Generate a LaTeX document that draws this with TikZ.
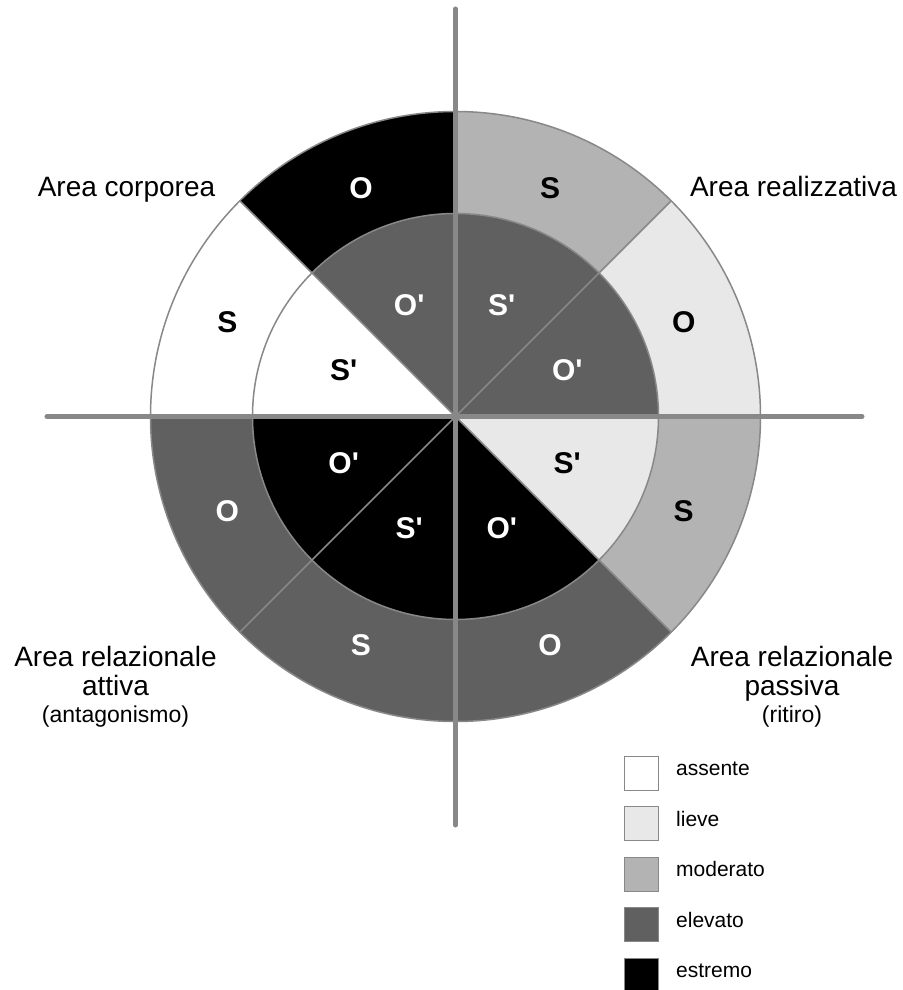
\documentclass[tikz,border=0pt]{standalone}
\usepackage{fontspec}
\setmainfont{Liberation Sans}[Ligatures=TeXOff]
\begin{document}
\begin{tikzpicture}[x=1pt,y=1pt,
  divider/.style={draw=rulec, line width=1.5pt},
  axisline/.style={draw=rulec, line width=5pt, line cap=round},
  seclab/.style={font=\fontsize{30}{34}\selectfont\bfseries, inner sep=0pt},
  arealab/.style={font=\fontsize{28}{32}\selectfont, anchor=base, inner sep=0pt},
  sublab/.style={font=\fontsize{23}{27}\selectfont, anchor=base, inner sep=0pt},
  legbox/.style={draw=rulec, line width=1pt, minimum size=34pt, inner sep=0pt},
  legtext/.style={font=\fontsize{21}{25}\selectfont, anchor=mid west, inner sep=0pt}
]
\definecolor{lvA}{HTML}{FFFFFF}
\definecolor{lvB}{HTML}{E8E8E8}
\definecolor{lvC}{HTML}{B3B3B3}
\definecolor{lvD}{HTML}{606060}
\definecolor{lvE}{HTML}{000000}
\definecolor{rulec}{HTML}{888888}
\useasboundingbox (-455.5,-573.5) rectangle (446.5,416.5);
\fill[white] (-455.5,-573.5) rectangle (446.5,416.5);

\newcommand\mysector[4]{\fill[#4] (0,0) -- (#1:#3) arc[start angle=#1,end angle=#2,radius=#3] -- cycle;}

% outer ring
\mysector{90}{135}{305}{lvE}
\mysector{135}{180}{305}{lvA}
\mysector{180}{225}{305}{lvD}
\mysector{225}{270}{305}{lvD}
\mysector{270}{315}{305}{lvD}
\mysector{315}{360}{305}{lvC}
\mysector{0}{45}{305}{lvB}
\mysector{45}{90}{305}{lvC}
% inner ring
\mysector{90}{135}{203}{lvD}
\mysector{135}{180}{203}{lvA}
\mysector{180}{225}{203}{lvE}
\mysector{225}{270}{203}{lvE}
\mysector{270}{315}{203}{lvE}
\mysector{315}{360}{203}{lvB}
\mysector{0}{45}{203}{lvD}
\mysector{45}{90}{203}{lvD}

\coordinate (c) at (0,0);
\foreach \a in {45,135,225,315} \draw[divider] (c) -- (\a:305);
\draw[divider] (c) circle[radius=305];
\draw[divider] (c) circle[radius=203];

\coordinate (axT) at (0,407.5);
\coordinate (axB) at (0,-408.5);
\coordinate (axL) at (-408.5,0);
\coordinate (axR) at (406.5,0);
\draw[axisline] (axT) -- (axB);
\draw[axisline] (axL) -- (axR);

% outer labels
\node[seclab, text=white] (o1) at (112.5:247) {O};
\node[seclab] (o2) at (67.5:247) {S};
\node[seclab] (o3) at (22.5:247) {O};
\node[seclab] (o4) at (-22.5:247) {S};
\node[seclab, text=white] (o5) at (-67.5:247) {O};
\node[seclab, text=white] (o6) at (-112.5:247) {S};
\node[seclab, text=white] (o7) at (-157.5:247) {O};
\node[seclab] (o8) at (157.5:247) {S};
% inner labels
\node[seclab, text=white] (i1) at (112.5:121) {O'};
\node[seclab, text=white] (i2) at (67.5:121) {S'};
\node[seclab, text=white] (i3) at (22.5:121) {O'};
\node[seclab] (i4) at (-22.5:121) {S'};
\node[seclab, text=white] (i5) at (-67.5:121) {O'};
\node[seclab, text=white] (i6) at (-112.5:121) {S'};
\node[seclab, text=white] (i7) at (-157.5:121) {O'};
\node[seclab] (i8) at (157.5:121) {S'};

% area labels
\node[arealab] (corp) at (-329,219.8) {Area corporea};
\node[arealab] (real) at (338,219.8) {Area realizzativa};
\node[arealab] (ra1) at (-340,-249.5) {Area relazionale};
\node[arealab] (ra2) at (-340,-278.5) {attiva};
\node[sublab] (ra3) at (-340,-305.5) {(antagonismo)};
\node[arealab] (rp1) at (336.5,-249.5) {Area relazionale};
\node[arealab] (rp2) at (336.5,-278.5) {passiva};
\node[sublab] (rp3) at (336.5,-305.5) {(ritiro)};

% legend
\node[legbox, fill=lvA] (k1) at (186,-356.5) {};
\node[legbox, fill=lvB] (k2) at (186,-407) {};
\node[legbox, fill=lvC] (k3) at (186,-457.5) {};
\node[legbox, fill=lvD] (k4) at (186,-508) {};
\node[legbox, fill=lvE] (k5) at (186,-558.5) {};
\node[legtext] (t1) at (220.5,-356.5) {assente};
\node[legtext] (t2) at (220.5,-407) {lieve};
\node[legtext] (t3) at (220.5,-457.5) {moderato};
\node[legtext] (t4) at (220.5,-508) {elevato};
\node[legtext] (t5) at (220.5,-558.5) {estremo};
\end{tikzpicture}
\end{document}
